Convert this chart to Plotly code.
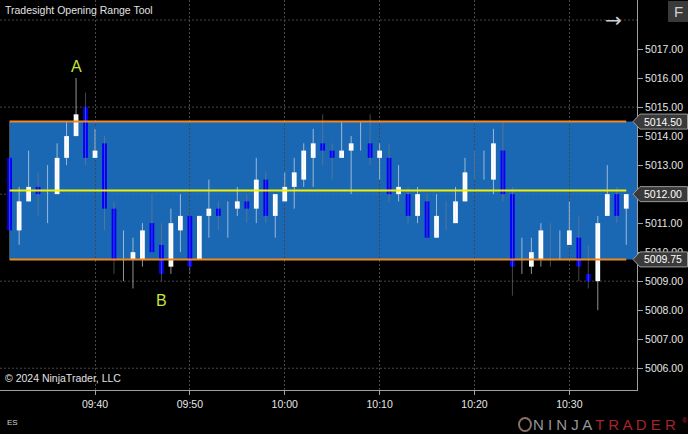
import math
import pandas as pd
import plotly.graph_objects as go

# ---------------- data ----------------
session_date = "2024-03-28"
first_bar = "09:31"

opens = [5013.25, 5010.75, 5011.75, 5012.25, 5012.00, 5012.00, 5013.25, 5014.00, 5015.00, 5013.25,
         5013.75, 5011.50, 5010.00, 5009.75, 5009.75, 5011.00, 5010.25, 5009.50, 5010.75, 5011.25,
         5009.75, 5011.25, 5011.50, 5011.25, 5011.50, 5011.75, 5011.50, 5012.50, 5011.25, 5011.75,
         5012.25, 5012.50, 5013.25, 5013.75, 5013.50, 5013.25, 5013.50, 5013.75, 5013.75, 5013.25,
         5013.25, 5012.00, 5012.00, 5011.25, 5011.75, 5010.50, 5011.25, 5011.00, 5011.75, 5013.00,
         5013.00, 5012.50, 5013.50, 5012.00, 5010.00, 5009.50, 5009.75, 5010.25, 5010.25, 5010.25,
         5010.50, 5009.25, 5009.00, 5011.25, 5012.00, 5011.50]
highs = [5014.50, 5012.25, 5013.50, 5012.75, 5013.00, 5013.75, 5014.50, 5016.00, 5015.50, 5014.25,
         5014.00, 5011.75, 5010.75, 5010.50, 5011.00, 5012.00, 5011.00, 5011.50, 5012.00, 5011.25,
         5011.25, 5012.50, 5011.75, 5011.75, 5012.25, 5012.00, 5013.25, 5012.75, 5012.00, 5012.75,
         5013.25, 5013.75, 5014.25, 5014.75, 5013.75, 5014.50, 5014.00, 5014.50, 5014.75, 5013.75,
         5013.75, 5013.00, 5012.25, 5012.25, 5012.00, 5012.00, 5011.75, 5012.25, 5013.25, 5013.50,
         5013.50, 5014.25, 5014.50, 5012.25, 5010.50, 5010.50, 5011.00, 5011.00, 5010.75, 5011.75,
         5011.25, 5010.25, 5011.25, 5013.00, 5012.25, 5012.00]
lows = [5009.75, 5010.25, 5011.75, 5011.25, 5011.00, 5012.00, 5013.00, 5014.00, 5013.00, 5013.25,
        5010.75, 5009.25, 5009.00, 5008.75, 5009.50, 5010.00, 5009.00, 5009.25, 5010.00, 5009.25,
        5009.75, 5010.50, 5010.75, 5010.50, 5011.25, 5011.00, 5011.00, 5011.00, 5010.50, 5011.75,
        5011.50, 5012.25, 5012.25, 5013.00, 5012.50, 5013.25, 5012.00, 5013.50, 5013.00, 5012.50,
        5011.75, 5011.75, 5011.00, 5011.00, 5010.50, 5010.50, 5010.75, 5011.00, 5011.75, 5012.50,
        5012.50, 5012.00, 5011.75, 5008.50, 5009.25, 5009.25, 5009.50, 5009.50, 5009.75, 5010.25,
        5009.00, 5008.75, 5008.00, 5011.25, 5011.00, 5010.25]
closes = [5010.75, 5011.75, 5012.25, 5012.00, 5012.00, 5013.25, 5014.00, 5014.75, 5013.25, 5013.50,
          5011.50, 5009.75, 5010.00, 5010.00, 5010.75, 5010.00, 5009.25, 5011.00, 5011.25, 5009.50,
          5011.25, 5011.50, 5011.25, 5011.25, 5011.75, 5011.50, 5012.50, 5011.25, 5012.00, 5012.25,
          5012.75, 5013.50, 5013.75, 5013.50, 5013.25, 5013.50, 5013.75, 5013.75, 5013.25, 5013.50,
          5012.00, 5012.25, 5011.25, 5012.00, 5010.50, 5011.25, 5011.25, 5011.75, 5012.75, 5013.00,
          5013.00, 5013.75, 5012.00, 5009.50, 5010.00, 5010.00, 5010.75, 5010.25, 5010.25, 5010.75,
          5009.50, 5009.00, 5011.00, 5012.00, 5011.25, 5012.00]
dark_doji_times = ["10:17", "10:20", "10:28"]

range_high = 5014.50
range_low = 5009.75
tick_size = 0.25

y_tick_vals = [5006, 5007, 5008, 5009, 5010, 5011, 5012, 5013, 5014, 5015, 5016, 5017]
y_grid_vals = [5006, 5009, 5012, 5015, 5018]
x_tick_labels = ["09:40", "09:50", "10:00", "10:10", "10:20", "10:30"]
y_range = [5005.25, 5018.69]
x_range = ["09:29:59", "10:37:08"]

marker_a = ("09:38", "A")
marker_b = ("09:47", "B")

# ---------------- derived ----------------
bar_times = pd.date_range(f"{session_date} {first_bar}", periods=len(opens), freq="1min")
x_tick_vals = [pd.Timestamp(f"{session_date} {t}") for t in x_tick_labels]
x_rng = [pd.Timestamp(f"{session_date} {t}") for t in x_range]

mid = (range_high + range_low) / 2
mid_label = math.floor(mid / tick_size) * tick_size

PLOT_W, PLOT_H = 637, 390


def px(xp):
    return xp / PLOT_W


def py(yp):
    return 1 - yp / PLOT_H


light_x, light_y, dark_x, dark_y = [], [], [], []
body_colors = []
for t, o, h, l, c in zip(bar_times, opens, highs, lows, closes):
    light = c > o or (c == o and t.strftime("%H:%M") not in dark_doji_times)
    if light:
        light_x += [t, t, None]
        light_y += [l, h, None]
    else:
        dark_x += [t, t, None]
        dark_y += [l, h, None]
    body_colors.append("#ffffff" if c >= o else "#0000ff")

fig = go.Figure()
fig.add_trace(go.Scatter(x=dark_x, y=dark_y, mode="lines",
                         line=dict(color="rgba(130,130,130,0.55)", width=1), hoverinfo="skip"))
fig.add_trace(go.Scatter(x=light_x, y=light_y, mode="lines",
                         line=dict(color="rgba(235,235,235,0.62)", width=1), hoverinfo="skip"))
fig.add_trace(go.Bar(x=bar_times, y=[c - o for o, c in zip(opens, closes)], base=opens,
                     width=30000, marker=dict(color=body_colors, line=dict(width=0)),
                     hoverinfo="skip"))

shapes = []
for g in y_grid_vals:
    shapes.append(dict(type="line", xref="paper", yref="y", x0=0, x1=1, y0=g, y1=g,
                       line=dict(color="#474747", width=1, dash="2px,2px"), layer="below"))
# opening range box
shapes.append(dict(type="rect", xref="x", yref="y", x0=bar_times[0], x1=x_rng[1],
                   y0=range_low, y1=range_high, fillcolor="rgba(31,121,211,0.85)",
                   line=dict(width=0), layer="below"))
for lvl, col in [(range_high, "#f08a1c"), (range_low, "#f08a1c"), (mid, "#f2f200")]:
    shapes.append(dict(type="line", xref="x", yref="y", x0=bar_times[0], x1=bar_times[-1],
                       y0=lvl, y1=lvl, line=dict(color=col, width=2), layer="above"))

# price labels on the right axis
half_h = 7.5 * (y_range[1] - y_range[0]) / PLOT_H
annotations = []
for val in [range_high, mid_label, range_low]:
    xt, xa, xr = px(633), px(640), px(687.5)
    path = (f"M {xt},{val} L {xa},{val + half_h} L {xr},{val + half_h} "
            f"L {xr},{val - half_h} L {xa},{val - half_h} Z")
    shapes.append(dict(type="path", xref="paper", yref="y", path=path,
                       fillcolor="#3a3a3a", line=dict(color="#9a9a9a", width=1), layer="above"))
    annotations.append(dict(xref="paper", yref="y", x=px(642), y=val, text=f"{val:.2f}",
                            showarrow=False, xanchor="left", yanchor="middle",
                            font=dict(size=10.5, color="#ffffff")))

# F button
shapes.append(dict(type="rect", xref="paper", yref="paper", x0=px(668), x1=px(688),
                   y0=py(22), y1=py(1), fillcolor="#3a3a3a", line=dict(width=0), layer="above"))
# logo icon
shapes.append(dict(type="circle", xref="paper", yref="paper", x0=px(519), x1=px(531),
                   y0=py(431), y1=py(418), line=dict(color="#8a6f66", width=2),
                   fillcolor="rgba(0,0,0,0)", layer="above"))

annotations += [
    dict(xref="paper", yref="paper", x=px(3), y=py(9.5), text="Tradesight Opening Range Tool",
         showarrow=False, xanchor="left", yanchor="middle", font=dict(size=10.5, color="#e2e2e2")),
    dict(xref="paper", yref="paper", x=px(3), y=py(378), text="© 2024 NinjaTrader, LLC",
         showarrow=False, xanchor="left", yanchor="middle", font=dict(size=10.5, color="#e2e2e2")),
    dict(xref="paper", yref="paper", x=px(5), y=py(423), text="ES",
         showarrow=False, xanchor="left", yanchor="middle", font=dict(size=8, color="#d0d0d0")),
    dict(xref="paper", yref="paper", x=px(678), y=py(11.5), text="F",
         showarrow=False, xanchor="center", yanchor="middle", font=dict(size=15, color="#cfcfcf")),
    dict(xref="paper", yref="paper", x=px(613.5), y=py(19.5), text="→",
         showarrow=False, xanchor="center", yanchor="middle",
         font=dict(size=20, color="#cfcfcf", family="DejaVu Sans")),
    dict(xref="paper", yref="paper", x=px(531), y=py(424.5),
         text="<span style='color:#969696'>N I N J A </span>"
              "<span style='color:#a8232b'>T R A D E R</span>",
         showarrow=False, xanchor="left", yanchor="middle", font=dict(size=15)),
    dict(xref="paper", yref="paper", x=px(680), y=py(420), text="®",
         showarrow=False, xanchor="left", yanchor="middle", font=dict(size=7, color="#a8232b")),
]

for (t, txt), is_top in [(marker_a, True), (marker_b, False)]:
    idx = [bt.strftime("%H:%M") for bt in bar_times].index(t)
    annotations.append(dict(xref="x", yref="y", x=bar_times[idx],
                            y=highs[idx] if is_top else lows[idx],
                            text=txt, showarrow=False, xanchor="center",
                            yanchor="bottom" if is_top else "top",
                            yshift=1 if is_top else -9,
                            font=dict(size=16, color="#c6e33a")))

fig.update_layout(
    template="none",
    width=688, height=434,
    margin=dict(l=0, r=51, t=0, b=44, pad=0, autoexpand=False),
    paper_bgcolor="#000000", plot_bgcolor="#000000",
    showlegend=False, hovermode=False,
    font=dict(family="Liberation Sans, Arial, sans-serif", color="#e6e6e6", size=10.5),
    xaxis=dict(type="date", range=x_rng, tickvals=x_tick_vals, ticktext=x_tick_labels,
               showgrid=True, gridcolor="#474747", griddash="2px,2px", gridwidth=1,
               showline=True, linecolor="#a0a0a0", linewidth=1, ticks="outside", ticklen=4,
               tickcolor="#a0a0a0", zeroline=False, fixedrange=True, automargin=False,
               tickfont=dict(size=10.5, color="#e6e6e6")),
    yaxis=dict(range=y_range, side="right", tickvals=y_tick_vals, tickformat=".2f",
               showgrid=False, showline=True, linecolor="#a0a0a0", linewidth=1,
               ticks="outside", ticklen=5, tickcolor="#a0a0a0", zeroline=False,
               fixedrange=True, automargin=False, tickfont=dict(size=10.5, color="#e6e6e6")),
    shapes=shapes, annotations=annotations,
)

fig.write_html("out.html", config={"displayModeBar": False},
               post_script="document.body.style.margin='0';document.body.style.background='#000';")
